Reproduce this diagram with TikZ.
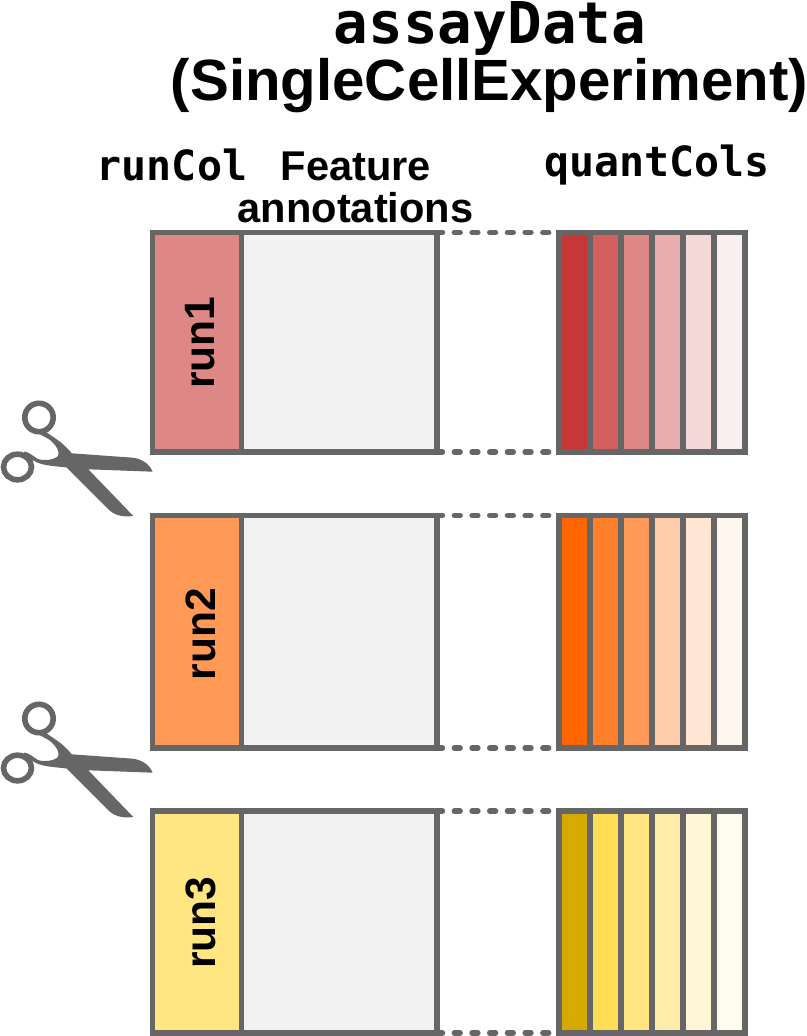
\documentclass[tikz,border=0pt]{standalone}
\usepackage{fontspec}
\setmainfont{Liberation Sans}
\newfontfamily\monob{DejaVu Sans Mono}
\definecolor{edgegray}{HTML}{666666}
\definecolor{annot}{HTML}{F2F2F2}
\definecolor{ra}{HTML}{C83737}\definecolor{rb}{HTML}{D35F5F}\definecolor{rc}{HTML}{DE8787}\definecolor{rd}{HTML}{E9AFAF}\definecolor{re}{HTML}{F4D7D7}\definecolor{rf}{HTML}{FBEEEE}
\definecolor{oa}{HTML}{FF6600}\definecolor{ob}{HTML}{FF7F2A}\definecolor{oc}{HTML}{FF9955}\definecolor{od}{HTML}{FFCCAA}\definecolor{oe}{HTML}{FFE6D5}\definecolor{of}{HTML}{FFF6EE}
\definecolor{ya}{HTML}{D4AA00}\definecolor{yb}{HTML}{FFDD55}\definecolor{yc}{HTML}{FFE680}\definecolor{yd}{HTML}{FFEEAA}\definecolor{ye}{HTML}{FFF6D5}\definecolor{yf}{HTML}{FFFBEE}
\tikzset{
  x=1pt,y=-1pt,
  box/.style={draw=edgegray,line width=5.6pt,inner sep=0pt,outer sep=0pt,rectangle},
  link/.style={draw=edgegray,line width=5.6pt,line cap=round,dash pattern=on 5.7pt off 12pt},
  sanslabel/.style={font=\bfseries\fontsize{41.6}{41.6}\selectfont,inner sep=0pt,anchor=base},
  monolabel/.style={font=\monob\bfseries\fontsize{41.6}{41.6}\selectfont,inner sep=0pt,anchor=base},
}
% #1 run number, #2 top, #3 bottom, #4 colour prefix, #5 label centre y
\newcommand{\rowdraw}[5]{%
  \pgfmathsetmacro{\rh}{#3-#2}\pgfmathsetmacro{\rmid}{(#3+#2)/2}
  \node[box,fill=#4c,minimum width=89pt,minimum height=\rh pt] (run#1) at (197,\rmid) {};
  \node[box,fill=annot,minimum width=195.2pt,minimum height=\rh pt] (ann#1) at (339.1,\rmid) {};
  \node[font=\bfseries\fontsize{42.5}{42.5}\selectfont,rotate=90,inner sep=0pt] (lab#1) at (200.5,#5) {run#1};
  \node[box,fill=#4a,minimum width=31pt,minimum height=\rh pt] (qa#1) at (574.2,\rmid) {};
  \node[box,fill=#4b,minimum width=31pt,minimum height=\rh pt] (qb#1) at (605.2,\rmid) {};
  \node[box,fill=#4c,minimum width=31pt,minimum height=\rh pt] (qc#1) at (636.2,\rmid) {};
  \node[box,fill=#4d,minimum width=31pt,minimum height=\rh pt] (qd#1) at (667.2,\rmid) {};
  \node[box,fill=#4e,minimum width=31pt,minimum height=\rh pt] (qe#1) at (698.2,\rmid) {};
  \node[box,fill=#4f,minimum width=31pt,minimum height=\rh pt] (qf#1) at (729.2,\rmid) {};
  \draw[link] (ann#1.north east) -- (qa#1.north west);
  \draw[link] (ann#1.south east) -- (qa#1.south west);
}
\newcommand{\scissors}[1]{%
  \begin{scope}[yshift=-#1pt]
    \fill[edgegray] (71.7,453.3) -- (133,457.7) .. controls (143,459) and (150,465) .. (152.7,471.7)
      -- (88.3,469.3) -- (133.3,516) .. controls (122,517.5) and (113,515) .. (106.7,507.5)
      -- (66.7,467.5) .. controls (55,466) and (45,466) .. (36,462)
      -- (28,457) -- (24,454) -- (24,451.5) .. controls (29,452) and (33,456) .. (38,459)
      .. controls (44,461) and (54,460) .. (58,456) .. controls (60,452) and (57,446) .. (50,440)
      .. controls (45,436.5) and (40,435) .. (36,431.7) -- (45,431)
      .. controls (52,437) and (62,441) .. (71.7,453.3) -- cycle;
    \draw[edgegray,line width=5.6pt] (39,417.5) circle[radius=14.2];
    \draw[edgegray,line width=5.6pt] (17.5,467) ellipse[x radius=14,y radius=12.8];
  \end{scope}
}
\begin{document}
\begin{tikzpicture}
\useasboundingbox (0,0) rectangle (806,1036);
\node[monolabel,font=\monob\bfseries\fontsize{57.6}{57.6}\selectfont] (ttl) at (490,43) {assayData};
\node[sanslabel,font=\bfseries\fontsize{58.2}{58.2}\selectfont] (ttl2) at (489.5,100) {(SingleCellExperiment)};
\node[monolabel] (rcol) at (172,180) {runCol};
\node[sanslabel] (fa1) at (356,180) {Feature};
\node[sanslabel] (fa2) at (355.5,222) {annotations};
\node[monolabel] (qcol) at (657,176.7) {quantCols};
\rowdraw{1}{232.5}{452}{r}{342.5}
\rowdraw{2}{515.5}{748}{o}{634}
\rowdraw{3}{811}{1033}{y}{922.5}
\scissors{0}
\scissors{301}
\end{tikzpicture}
\end{document}
